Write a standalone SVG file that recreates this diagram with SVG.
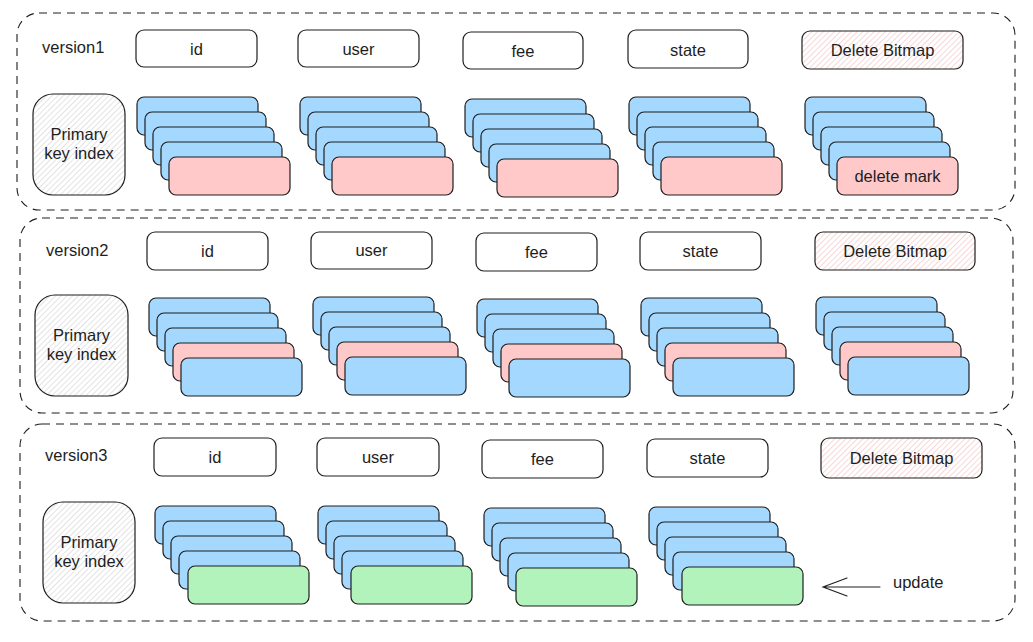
<svg xmlns="http://www.w3.org/2000/svg" width="1033" height="642" viewBox="0 0 1033 642">
<style>
.frame{fill:none;stroke:#1e1e1e;stroke-width:1.1;stroke-dasharray:8 6}
.hdr{fill:#ffffff;stroke:#1e1e1e;stroke-width:1.2}
.del{fill:url(#hPink);stroke:#1e1e1e;stroke-width:1.2}
.pk{fill:url(#hGray);stroke:#1e1e1e;stroke-width:1.2}
.b{fill:#a5d8ff;stroke:#1e1e1e;stroke-width:1.2}
.r{fill:#ffc9c9;stroke:#1e1e1e;stroke-width:1.2}
.g{fill:#b2f2bb;stroke:#1e1e1e;stroke-width:1.2}
text{font-family:"Liberation Sans",Arial,Helvetica,sans-serif;font-size:16.5px;fill:#1e1e1e}
.c{text-anchor:middle}
.arrow{fill:none;stroke:#1e1e1e;stroke-width:1.1;stroke-linecap:round}
</style>
<defs>
<pattern id="hGray" width="4" height="4" patternUnits="userSpaceOnUse" patternTransform="rotate(45)">
<rect width="4" height="4" fill="#ffffff"/>
<line x1="0" y1="0" x2="0" y2="4" stroke="#c8c8c8" stroke-width="1"/>
</pattern>
<pattern id="hPink" width="4" height="4" patternUnits="userSpaceOnUse" patternTransform="rotate(45)">
<rect width="4" height="4" fill="#ffffff"/>
<line x1="0" y1="0" x2="0" y2="4" stroke="#f0b0b0" stroke-width="1"/>
</pattern>
</defs>

<!-- Section 1 -->
<g id="version1">
<rect class="frame" x="17" y="13" width="998" height="197" rx="22"/>
<text x="42" y="53">version1</text>
</g>
<g id="v1-id"><rect class="hdr" x="136" y="30" width="121" height="37" rx="8"/><text class="c" x="196.5" y="55">id</text></g>
<g id="v1-user"><rect class="hdr" x="298" y="30" width="121" height="37" rx="8"/><text class="c" x="358.5" y="55">user</text></g>
<g id="v1-fee"><rect class="hdr" x="463" y="32" width="120" height="37" rx="8"/><text class="c" x="523" y="57">fee</text></g>
<g id="v1-state"><rect class="hdr" x="628" y="30" width="120" height="38" rx="8"/><text class="c" x="688" y="56">state</text></g>
<g id="v1-delete-bitmap"><rect class="del" x="802" y="31" width="161" height="38" rx="8"/><text class="c" x="882.5" y="56">Delete Bitmap</text></g>
<g id="v1-pk"><rect class="pk" x="33" y="94" width="92" height="101" rx="20"/><text class="c" x="79" y="140">Primary</text><text class="c" x="79" y="159">key index</text></g>
<g id="v1-id-stack">
<rect class="b" x="137" y="97" width="121" height="38" rx="7"/>
<rect class="b" x="145" y="112" width="121" height="38" rx="7"/>
<rect class="b" x="153" y="127" width="121" height="38" rx="7"/>
<rect class="b" x="161" y="142" width="121" height="38" rx="7"/>
<rect class="r" x="169" y="157" width="121" height="38" rx="7"/>
</g>
<g id="v1-user-stack">
<rect class="b" x="300" y="97" width="121" height="38" rx="7"/>
<rect class="b" x="308" y="112" width="121" height="38" rx="7"/>
<rect class="b" x="316" y="127" width="121" height="38" rx="7"/>
<rect class="b" x="324" y="142" width="121" height="38" rx="7"/>
<rect class="r" x="332" y="157" width="121" height="38" rx="7"/>
</g>
<g id="v1-fee-stack">
<rect class="b" x="465" y="99" width="121" height="38" rx="7"/>
<rect class="b" x="473" y="114" width="121" height="38" rx="7"/>
<rect class="b" x="481" y="129" width="121" height="38" rx="7"/>
<rect class="b" x="489" y="144" width="121" height="38" rx="7"/>
<rect class="r" x="497" y="159" width="121" height="38" rx="7"/>
</g>
<g id="v1-state-stack">
<rect class="b" x="629" y="97" width="121" height="38" rx="7"/>
<rect class="b" x="637" y="112" width="121" height="38" rx="7"/>
<rect class="b" x="645" y="127" width="121" height="38" rx="7"/>
<rect class="b" x="653" y="142" width="121" height="38" rx="7"/>
<rect class="r" x="661" y="157" width="121" height="38" rx="7"/>
</g>
<g id="v1-delete-stack">
<rect class="b" x="805" y="97" width="121" height="38" rx="7"/>
<rect class="b" x="813" y="112" width="121" height="38" rx="7"/>
<rect class="b" x="821" y="127" width="121" height="38" rx="7"/>
<rect class="b" x="829" y="142" width="121" height="38" rx="7"/>
<rect class="r" x="837" y="157" width="121" height="38" rx="7"/>
<text class="c" x="897.5" y="182">delete mark</text>
</g>

<!-- Section 2 -->
<g id="version2">
<rect class="frame" x="20" y="218" width="993" height="195" rx="22"/>
<text x="46" y="256">version2</text>
</g>
<g id="v2-id"><rect class="hdr" x="147" y="232" width="121" height="38" rx="8"/><text class="c" x="207.5" y="257">id</text></g>
<g id="v2-user"><rect class="hdr" x="311" y="232" width="121" height="37" rx="8"/><text class="c" x="371.5" y="256">user</text></g>
<g id="v2-fee"><rect class="hdr" x="476" y="233" width="121" height="38" rx="8"/><text class="c" x="536.5" y="258">fee</text></g>
<g id="v2-state"><rect class="hdr" x="640" y="232" width="121" height="38" rx="8"/><text class="c" x="700.5" y="257">state</text></g>
<g id="v2-delete-bitmap"><rect class="del" x="815" y="232" width="160" height="38" rx="8"/><text class="c" x="895" y="257">Delete Bitmap</text></g>
<g id="v2-pk"><rect class="pk" x="35" y="295" width="93" height="101" rx="20"/><text class="c" x="81.5" y="341">Primary</text><text class="c" x="81.5" y="360">key index</text></g>
<g id="v2-id-stack">
<rect class="b" x="149" y="298" width="121" height="38" rx="7"/>
<rect class="b" x="157" y="313" width="121" height="38" rx="7"/>
<rect class="b" x="165" y="328" width="121" height="38" rx="7"/>
<rect class="r" x="173" y="343" width="121" height="38" rx="7"/>
<rect class="b" x="181" y="358" width="121" height="38" rx="7"/>
</g>
<g id="v2-user-stack">
<rect class="b" x="313" y="297" width="121" height="38" rx="7"/>
<rect class="b" x="321" y="312" width="121" height="38" rx="7"/>
<rect class="b" x="329" y="327" width="121" height="38" rx="7"/>
<rect class="r" x="337" y="342" width="121" height="38" rx="7"/>
<rect class="b" x="345" y="357" width="121" height="38" rx="7"/>
</g>
<g id="v2-fee-stack">
<rect class="b" x="477" y="299" width="121" height="38" rx="7"/>
<rect class="b" x="485" y="314" width="121" height="38" rx="7"/>
<rect class="b" x="493" y="329" width="121" height="38" rx="7"/>
<rect class="r" x="501" y="344" width="121" height="38" rx="7"/>
<rect class="b" x="509" y="359" width="121" height="38" rx="7"/>
</g>
<g id="v2-state-stack">
<rect class="b" x="641" y="298" width="121" height="38" rx="7"/>
<rect class="b" x="649" y="313" width="121" height="38" rx="7"/>
<rect class="b" x="657" y="328" width="121" height="38" rx="7"/>
<rect class="r" x="665" y="343" width="121" height="38" rx="7"/>
<rect class="b" x="673" y="358" width="121" height="38" rx="7"/>
</g>
<g id="v2-delete-stack">
<rect class="b" x="816" y="297" width="121" height="38" rx="7"/>
<rect class="b" x="824" y="312" width="121" height="38" rx="7"/>
<rect class="b" x="832" y="327" width="121" height="38" rx="7"/>
<rect class="r" x="840" y="342" width="121" height="38" rx="7"/>
<rect class="b" x="848" y="357" width="121" height="38" rx="7"/>
</g>

<!-- Section 3 -->
<g id="version3">
<rect class="frame" x="20" y="424" width="995" height="197" rx="22"/>
<text x="45" y="461">version3</text>
</g>
<g id="v3-id"><rect class="hdr" x="154" y="438" width="122" height="38" rx="8"/><text class="c" x="215" y="463">id</text></g>
<g id="v3-user"><rect class="hdr" x="317" y="438" width="122" height="38" rx="8"/><text class="c" x="378" y="463">user</text></g>
<g id="v3-fee"><rect class="hdr" x="482" y="440" width="121" height="38" rx="8"/><text class="c" x="542.5" y="465">fee</text></g>
<g id="v3-state"><rect class="hdr" x="647" y="439" width="121" height="38" rx="8"/><text class="c" x="707.5" y="464">state</text></g>
<g id="v3-delete-bitmap"><rect class="del" x="821" y="438" width="161" height="40" rx="8"/><text class="c" x="901.5" y="464">Delete Bitmap</text></g>
<g id="v3-pk"><rect class="pk" x="43" y="502" width="92" height="101" rx="20"/><text class="c" x="89" y="548">Primary</text><text class="c" x="89" y="567">key index</text></g>
<g id="v3-id-stack">
<rect class="b" x="155" y="506" width="121" height="38" rx="7"/>
<rect class="b" x="163" y="521" width="121" height="38" rx="7"/>
<rect class="b" x="171" y="536" width="121" height="38" rx="7"/>
<rect class="b" x="179" y="551" width="121" height="38" rx="7"/>
<rect class="g" x="188" y="566" width="121" height="38" rx="7"/>
</g>
<g id="v3-user-stack">
<rect class="b" x="318" y="506" width="121" height="38" rx="7"/>
<rect class="b" x="326" y="521" width="121" height="38" rx="7"/>
<rect class="b" x="334" y="536" width="121" height="38" rx="7"/>
<rect class="b" x="342" y="551" width="121" height="38" rx="7"/>
<rect class="g" x="351" y="566" width="121" height="38" rx="7"/>
</g>
<g id="v3-fee-stack">
<rect class="b" x="484" y="508" width="121" height="38" rx="7"/>
<rect class="b" x="492" y="523" width="121" height="38" rx="7"/>
<rect class="b" x="500" y="538" width="121" height="38" rx="7"/>
<rect class="b" x="508" y="553" width="121" height="38" rx="7"/>
<rect class="g" x="516" y="568" width="121" height="38" rx="7"/>
</g>
<g id="v3-state-stack">
<rect class="b" x="649" y="507" width="121" height="38" rx="7"/>
<rect class="b" x="657" y="522" width="121" height="38" rx="7"/>
<rect class="b" x="665" y="537" width="121" height="38" rx="7"/>
<rect class="b" x="673" y="552" width="121" height="38" rx="7"/>
<rect class="g" x="682" y="567" width="121" height="38" rx="7"/>
</g>
<g id="update-label"><text x="893" y="588">update</text></g>

<g id="connectors">
<path class="arrow" d="M880 587 L823 587 M847 578 L823 587 L847 596"/>
</g>
</svg>
